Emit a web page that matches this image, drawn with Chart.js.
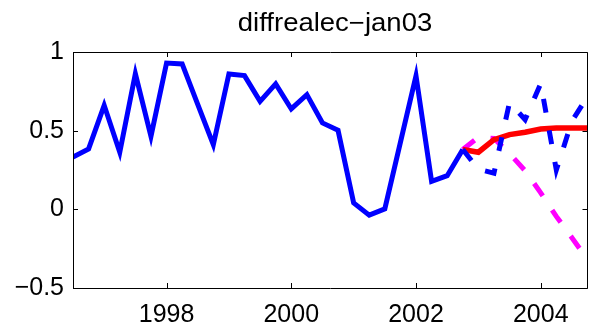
<!DOCTYPE html>
<html>
<head>
<meta charset="utf-8">
<title>diffrealec-jan03</title>
<script src="https://cdn.jsdelivr.net/npm/chart.js@4.4.1/dist/chart.umd.min.js"></script>
<style>
  html, body { margin: 0; padding: 0; background: #ffffff; }
  #wrap { width: 594px; height: 330px; }
</style>
</head>
<body>
<div id="wrap"><canvas id="myChart" width="594" height="330"></canvas></div>
<script>
// quarters (decimal years) 1996Q3 .. 2004Q4
const quarters = [
  1996.5, 1996.75, 1997, 1997.25, 1997.5, 1997.75,
  1998, 1998.25, 1998.5, 1998.75, 1999, 1999.25, 1999.5, 1999.75,
  2000, 2000.25, 2000.5, 2000.75, 2001, 2001.25, 2001.5, 2001.75,
  2002, 2002.25, 2002.5, 2002.75, 2003, 2003.25, 2003.5, 2003.75,
  2004, 2004.25, 2004.5, 2004.75
];
// actual series, 1996Q3 .. 2002Q4
const actual = [
  0.333, 0.384, 0.661, 0.363, 0.862, 0.464, 0.930, 0.924, 0.667, 0.411,
  0.860, 0.850, 0.686, 0.797, 0.638, 0.729, 0.549, 0.502, 0.041, -0.037,
  0.003, 0.426, 0.849, 0.178, 0.214, 0.380
];
// forecasts from 2002Q4 .. 2004Q4
const redForecast = [0.380, 0.363, 0.443, 0.475, 0.490, 0.511, 0.517, 0.517, 0.517];
const magentaForecast = [0.380, 0.458, 0.450, 0.355, 0.245, 0.105, -0.045, -0.180, -0.320];
const blueForecast = [0.380, 0.255, 0.230, 0.680, 0.570, 0.800, 0.250, 0.560, 0.718];

const xTicks = [1998, 2000, 2002, 2004];
const yTicks = [-0.5, 0, 0.5, 1];
const titleText = "diffrealec\u2212jan03";

function pts(dates, values) {
  return values.map((v, i) => ({ x: dates[i], y: v }));
}
const fcDates = quarters.slice(actual.length - 1);

const FONT = "'Liberation Sans', Arial, Helvetica, sans-serif";

// box, inward ticks and title, matlab style
const boxPlugin = {
  id: "box",
  afterDatasetsDraw(chart) {
    const ctx = chart.ctx;
    const a = chart.chartArea;
    const xs = chart.scales.x, ys = chart.scales.y;
    const tl = 5;
    ctx.save();
    ctx.strokeStyle = "#000000";
    ctx.lineWidth = 1;
    ctx.beginPath();
    ctx.rect(Math.round(a.left) + 0.5, Math.round(a.top) + 0.5,
             Math.round(a.right - a.left) - 1, Math.round(a.bottom - a.top));
    xTicks.forEach(t => {
      const px = Math.round(xs.getPixelForValue(t)) + 0.5;
      ctx.moveTo(px, a.bottom); ctx.lineTo(px, a.bottom - tl);
      ctx.moveTo(px, a.top); ctx.lineTo(px, a.top + tl);
    });
    yTicks.forEach(t => {
      const py = Math.round(ys.getPixelForValue(t)) + 0.5;
      ctx.moveTo(a.left, py); ctx.lineTo(a.left + tl, py);
      ctx.moveTo(a.right, py); ctx.lineTo(a.right - tl, py);
    });
    ctx.stroke();
    // title is a bit wider than plain 25px text in the original
    ctx.fillStyle = "#000000";
    ctx.font = "25px " + FONT;
    ctx.textAlign = "center";
    ctx.textBaseline = "alphabetic";
    ctx.translate(335, 31);
    ctx.scale(1.1, 1);
    ctx.fillText(titleText, 0, 0);
    ctx.restore();
  }
};

new Chart("myChart", {
  type: "line",
  data: {
    datasets: [
      {
        label: "blue forecast",
        data: pts(fcDates, blueForecast),
        borderColor: "#0000ff",
        borderWidth: 5,
        borderDash: [14, 18]
      },
      {
        label: "red forecast",
        data: pts(fcDates, redForecast),
        borderColor: "#ff0000",
        borderWidth: 5.5
      },
      {
        label: "magenta forecast",
        data: pts(fcDates, magentaForecast),
        borderColor: "#ff00ff",
        borderWidth: 5,
        borderDash: [15, 17]
      },
      {
        label: "diffrealec",
        data: pts(quarters, actual),
        borderColor: "#0000ff",
        borderWidth: 5
      }
    ]
  },
  options: {
    responsive: false,
    animation: false,
    events: [],
    elements: {
      point: { radius: 0 },
      line: { tension: 0, fill: false }
    },
    layout: { padding: { top: 52, right: 6.5, left: 0, bottom: 0 } },
    plugins: {
      legend: { display: false },
      tooltip: { enabled: false },
      title: { display: false }
    },
    scales: {
      x: {
        type: "linear",
        min: quarters[0],
        max: quarters[quarters.length - 1],
        grid: { display: false, drawTicks: false },
        border: { display: false },
        afterBuildTicks: s => { s.ticks = xTicks.map(v => ({ value: v })); },
        afterFit: s => { s.height = 42; },
        ticks: {
          color: "#000000",
          font: { family: FONT, size: 25 },
          padding: 12,
          maxRotation: 0,
          autoSkip: false,
          callback: v => String(v)
        }
      },
      y: {
        min: -0.5,
        max: 1,
        grid: { display: false, drawTicks: false },
        border: { display: false },
        afterBuildTicks: s => { s.ticks = yTicks.map(v => ({ value: v })); },
        afterFit: s => { s.width = 73; },
        ticks: {
          color: "#000000",
          font: { family: FONT, size: 25 },
          padding: 9,
          callback: v => (v < 0 ? "\u2212" + Math.abs(v) : String(v))
        }
      }
    }
  },
  plugins: [boxPlugin]
});
</script>
</body>
</html>
